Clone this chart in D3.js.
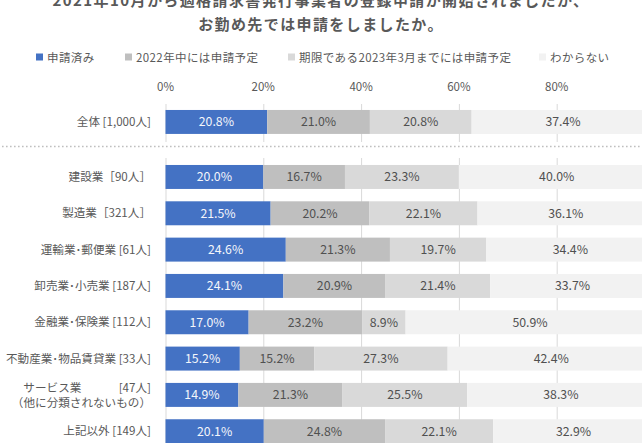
<!DOCTYPE html>
<html><head><meta charset="utf-8">
<script src="https://cdn.jsdelivr.net/npm/d3@7"></script>
<style>
html,body{margin:0;padding:0;background:#fff;overflow:hidden}
svg{display:block;font-family:"Noto Sans CJK JP","Noto Sans",sans-serif}
</style></head><body>
<svg id="c" width="642" height="443"></svg>
<script>
const titleLines = ["2021年10月から適格請求書発行事業者の登録申請が開始されましたが、", "お勤め先では申請をしましたか。"];
const seriesNames = ["申請済み", "2022年中には申請予定", "期限である2023年3月までには申請予定", "わからない"];
const seriesColors = ["#4472C4", "#BFBFBF", "#D9D9D9", "#F2F2F2"];
const totalCategory = ["全体 [1,000人]"];
const categories = [
  ["建設業［90人］"],
  ["製造業［321人］"],
  ["運輸業･郵便業 [61人]"],
  ["卸売業･小売業 [187人]"],
  ["金融業･保険業 [112人]"],
  ["不動産業･物品賃貸業 [33人]"],
  ["サービス業　　　 [47人]", "（他に分類されないもの）"],
  ["上記以外 [149人]"]
];
const applied   = [20.8, 20.0, 21.5, 24.6, 24.1, 17.0, 15.2, 14.9, 20.1];
const in2022    = [21.0, 16.7, 20.2, 21.3, 20.9, 23.2, 15.2, 21.3, 24.8];
const byMar2023 = [20.8, 23.3, 22.1, 19.7, 21.4,  8.9, 27.3, 25.5, 22.1];
const unknown   = [37.4, 40.0, 36.1, 34.4, 33.7, 50.9, 42.4, 38.3, 32.9];
const tickValues = [0, 20, 40, 60, 80];

const svg = d3.select("#c");
const grey = "#595959";

// title
svg.append("g").selectAll("text").data(titleLines).join("text")
  .attr("x", 321).attr("y", (d,i) => 6 + i*24)
  .attr("text-anchor", "middle")
  .attr("font-size", 15).attr("font-weight", "bold")
  .attr("letter-spacing", 1.4)
  .attr("fill", grey).text(d => d);

// legend
const legX = [36, 125, 288, 539];
const leg = svg.append("g").selectAll("g").data(seriesNames).join("g")
  .attr("transform", (d,i) => `translate(${legX[i]},0)`);
leg.append("rect").attr("x", 0).attr("y", 53.5).attr("width", 7).attr("height", 7)
  .attr("fill", (d,i) => seriesColors[i]);
leg.append("text").attr("x", 11).attr("y", 61.5)
  .attr("font-size", 11.5).attr("letter-spacing", 0.4).attr("fill", grey).text(d => d);

const x = d3.scaleLinear().domain([0, 100]).range([165.5, 654.5]);

// tick labels
svg.append("g").selectAll("text").data(tickValues).join("text")
  .attr("x", d => x(d)).attr("y", 91)
  .attr("text-anchor", "middle").attr("font-size", 11.5).attr("fill", grey)
  .text(d => d + "%");

const keys = ["a","b","c","d"];
const rows = applied.map((v,i) => ({a: v, b: in2022[i], c: byMar2023[i], d: unknown[i], idx: i}));
const stack = d3.stack().keys(keys)(rows);

function drawPanel(rowsIdx, labels, y0, y1, gy0, gy1) {
  const yb = d3.scaleBand().domain(rowsIdx).range([y0, y1]).paddingInner(0.34).paddingOuter(0.17);
  const g = svg.append("g");
  // grid
  g.selectAll("line.grid").data(tickValues).join("line")
    .attr("x1", d => x(d)+0.5).attr("x2", d => x(d)+0.5)
    .attr("y1", gy0).attr("y2", gy1)
    .attr("stroke", "#D9D9D9").attr("stroke-width", 1);
  stack.forEach((s, si) => {
    const segs = rowsIdx.map(r => ({r, v0: s[r][0], v1: s[r][1], val: s[r].data[keys[si]]}));
    g.selectAll("rect.s"+si).data(segs).join("rect")
      .attr("x", d => x(d.v0)).attr("width", d => x(d.v1) - x(d.v0))
      .attr("y", d => yb(d.r)).attr("height", yb.bandwidth())
      .attr("fill", seriesColors[si]);
    g.selectAll("text.s"+si).data(segs).join("text")
      .attr("x", d => (x(d.v0) + x(d.v1)) / 2)
      .attr("y", d => yb(d.r) + yb.bandwidth()/2 + 4.4)
      .attr("text-anchor", "middle").attr("font-size", 12.3)
      .attr("fill", si === 0 ? "#F4F6FB" : "#505050")
      .text(d => d.val.toFixed(1) + "%");
  });
  // category labels
  const lg = g.selectAll("text.cat").data(rowsIdx).join("text")
    .attr("text-anchor", "end").attr("font-size", 11.6).attr("fill", grey);
  lg.each(function(r, k) {
    const lines = labels[k];
    const cy = yb(r) + yb.bandwidth()/2;
    const t = d3.select(this);
    lines.forEach((ln, j) => {
      t.append("tspan").attr("x", 151)
        .attr("y", cy + 4.2 + (j - (lines.length-1)/2) * 15)
        .text(ln);
    });
  });
  return yb;
}

drawPanel([0], [totalCategory], 103.8, 140.1, 104, 142);
// separator dotted line
svg.append("line").attr("x1", 2).attr("x2", 642).attr("y1", 146.5).attr("y2", 146.5)
  .attr("stroke", "#BFBFBF").attr("stroke-width", 1.6)
  .attr("stroke-dasharray", "1.6,2.4");
drawPanel(d3.range(1, 9), categories, 158.8, 449.4, 158, 443);
</script>
</body></html>
